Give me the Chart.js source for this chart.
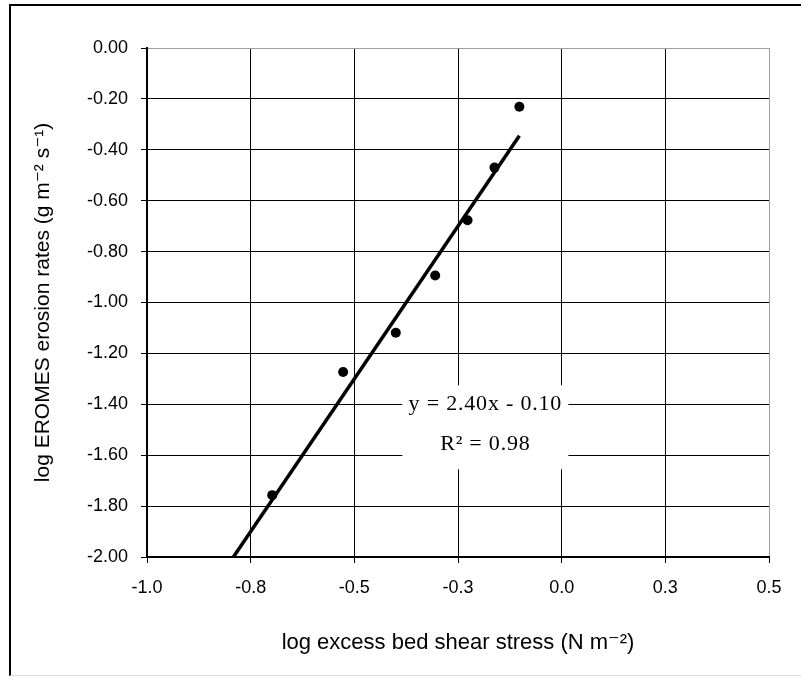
<!DOCTYPE html>
<html><head><meta charset="utf-8">
<script src="https://cdn.jsdelivr.net/npm/chart.js@4"></script>
<style>
html,body{margin:0;padding:0;background:#fff;}
#wrap{position:relative;width:801px;height:677px;overflow:hidden;}
#frame{position:absolute;left:9px;top:4px;width:820px;height:669px;border-top:2px solid #000;border-left:2px solid #000;border-bottom:1px solid #ddd;}
canvas{position:absolute;left:0;top:0;}
</style></head><body>
<div id="wrap"><div id="frame"></div><canvas id="c" width="801" height="677"></canvas></div>
<script>
// Data
const stressLog  = [-0.698, -0.527, -0.400, -0.305, -0.227, -0.162, -0.102];
const erosionLog = [-1.757, -1.273, -1.119, -0.894, -0.677, -0.470, -0.231];
const xTickLabels = ['-1.0', '-0.8', '-0.5', '-0.3', '0.0', '0.3', '0.5'];
const yTickLabels = ['-2.00', '-1.80', '-1.60', '-1.40', '-1.20', '-1.00', '-0.80', '-0.60', '-0.40', '-0.20', '0.00'];
const slope = 2.40, intercept = -0.10, r2 = 0.98;
const xMin = -1.0, xMax = 0.5, yMin = -2.0, yMax = 0.0;

// Trend line from the fitted equation, across the data range (clipped at axis min)
const trendXStart = (yMin - intercept) / slope;
const trendXEnd = Math.max(...stressLog);
const trendData = [trendXStart, trendXEnd].map(x => ({x, y: slope * x + intercept}));
const pointData = stressLog.map((x, i) => ({x, y: erosionLog[i]}));

const SANS = '"Liberation Sans", Arial, "DejaVu Sans", sans-serif';
const SERIF = '"Liberation Serif", "Times New Roman", serif';

const eqPlugin = {
  id: 'eqLabel',
  afterDatasetsDraw(chart, args, opts) {
    const {ctx, scales: {x, y}} = chart;
    const cx = x.getPixelForValue(opts.x);
    const cy1 = y.getPixelForValue(opts.y1);
    const cy2 = y.getPixelForValue(opts.y2);
    ctx.save();
    ctx.fillStyle = '#fff';
    ctx.fillRect(cx - opts.halfW, cy1 - opts.padTop, opts.halfW * 2, (cy2 + opts.padBottom) - (cy1 - opts.padTop));
    ctx.fillStyle = '#000';
    ctx.font = opts.font;
    if ('letterSpacing' in ctx) ctx.letterSpacing = opts.spacing;
    ctx.textAlign = 'center';
    ctx.textBaseline = 'middle';
    const sign = intercept < 0 ? '-' : '+';
    ctx.fillText(`y = ${slope.toFixed(2)}x ${sign} ${Math.abs(intercept).toFixed(2)}`, cx, cy1);
    ctx.fillText(`R\u00B2 = ${r2.toFixed(2)}`, cx, cy2);
    ctx.restore();
  }
};

new Chart(document.getElementById('c'), {
  type: 'scatter',
  data: {
    datasets: [
      {
        data: trendData,
        showLine: true,
        borderColor: '#000',
        borderWidth: 3.5,
        pointRadius: 0,
        fill: false
      },
      {
        data: pointData,
        pointRadius: 5,
        pointBackgroundColor: '#000',
        pointBorderWidth: 0,
        showLine: false
      }
    ]
  },
  options: {
    responsive: false,
    animation: false,
    devicePixelRatio: 1,
    layout: {padding: {left: 0, top: 48, right: 32, bottom: 0}},
    plugins: {
      legend: {display: false},
      tooltip: {enabled: false},
      eqLabel: {x: -0.184, y1: -1.40, y2: -1.557, halfW: 83, padTop: 19, padBottom: 25,
                font: '22px ' + SERIF, spacing: '0.8px'}
    },
    scales: {
      x: {
        type: 'linear', min: xMin, max: xMax,
        afterFit: s => { s.height = 120; },
        ticks: {
          stepSize: 0.25, autoSkip: false, maxRotation: 0, padding: 14,
          color: '#000', font: {family: SANS, size: 18},
          callback: (v, i) => xTickLabels[i]
        },
        grid: {
          color: c => (c.tick && Math.abs(c.tick.value - xMax) < 1e-9) ? '#a0a0a0' : '#000',
          lineWidth: 1, tickLength: 6, tickColor: '#000'
        },
        border: {color: '#000', width: 2},
        title: {display: true, text: 'log excess bed shear stress (N m\u207B\u00B2)', color: '#000',
                font: {family: SANS, size: 22}, padding: {top: 0, bottom: 21}}
      },
      y: {
        type: 'linear', min: yMin, max: yMax,
        afterFit: s => { s.width = 147; },
        ticks: {
          stepSize: 0.2, autoSkip: false, padding: 13,
          color: '#000', font: {family: SANS, size: 18},
          callback: (v, i) => yTickLabels[i]
        },
        grid: {
          color: c => (c.tick && Math.abs(c.tick.value - yMax) < 1e-9) ? '#a0a0a0' : '#000',
          lineWidth: 1, tickLength: 6, tickColor: '#000'
        },
        border: {color: '#000', width: 2},
        title: {display: true, text: 'log EROMES erosion rates (g m\u207B\u00B2 s\u207B\u00B9)', color: '#000',
                font: {family: SANS, size: 21}, padding: {top: 31, bottom: 0}}
      }
    }
  },
  plugins: [eqPlugin]
});
</script>
</body></html>
